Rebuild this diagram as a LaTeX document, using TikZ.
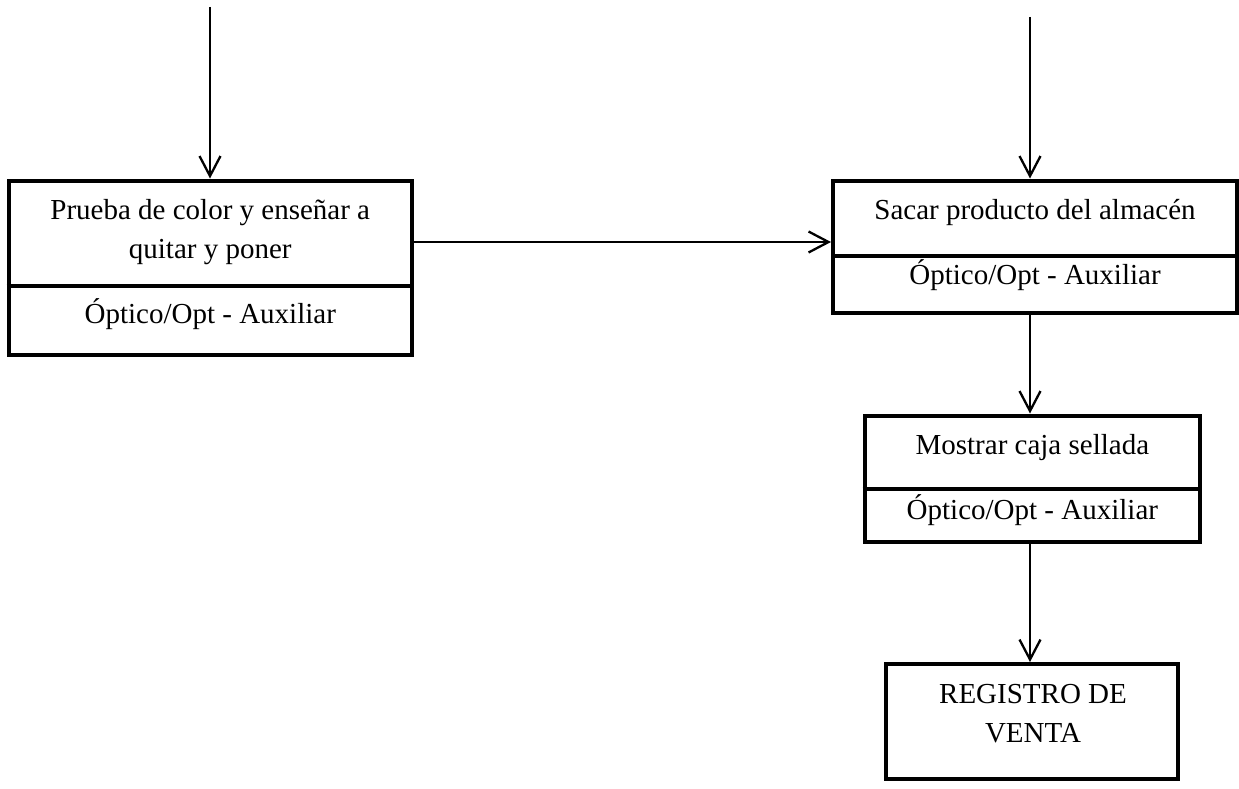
\documentclass[tikz,border=0pt]{standalone}
\usepackage{fontspec}
\setmainfont{Liberation Serif}
\usetikzlibrary{arrows.meta}
\begin{document}
\begin{tikzpicture}[x=1pt,y=-1pt,
  box/.style={draw, line width=4pt, inner sep=0pt},
  divline/.style={line width=4pt},
  lbl/.style={anchor=base, inner sep=0pt, align=center,
    font=\fontsize{29}{39}\selectfont},
  arr/.style={line width=2pt, -{Straight Barb[length=20pt, width=21pt, line width=2.3pt]}}]
  \useasboundingbox (0,0) rectangle (1239,789);

  % process boxes
  \node[box, minimum width=403.5pt, minimum height=174.5pt] (b1) at (210.25,267.75) {};
  \node[box, minimum width=404pt, minimum height=132.5pt] (b2) at (1035,246.75) {};
  \node[box, minimum width=335.3pt, minimum height=126.5pt] (b3) at (1032.35,478.75) {};
  \node[box, minimum width=292pt, minimum height=114.7pt] (b4) at (1032,721.35) {};

  % section dividers
  \coordinate (d1) at (0,286);
  \coordinate (d2) at (0,256);
  \coordinate (d3) at (0,489);
  \draw[divline] (b1.west |- d1) -- (b1.east |- d1);
  \draw[divline] (b2.west |- d2) -- (b2.east |- d2);
  \draw[divline] (b3.west |- d3) -- (b3.east |- d3);

  % texts (base anchor of a two-line node sits on its last line)
  \node[lbl] (t1) at (210.25,258.5) {Prueba de color y enseñar a\\quitar y poner};
  \node[lbl] (r1) at (210.25,323) {Óptico/Opt - Auxiliar};
  \node[lbl] (t2) at (1035,219.3) {Sacar producto del almacén};
  \node[lbl] (r2) at (1035,284) {Óptico/Opt - Auxiliar};
  \node[lbl] (t3) at (1032.35,454.3) {Mostrar caja sellada};
  \node[lbl] (r3) at (1032.35,519.3) {Óptico/Opt - Auxiliar};
  \node[lbl] (t4) at (1033,742) {REGISTRO DE\\VENTA};

  % connectors
  \coordinate (in1) at (210,7);
  \coordinate (in2) at (1030,17);
  \coordinate (h) at (0,242);
  \draw[arr] (in1) -- (in1 |- b1.north);
  \draw[arr] (in2) -- (in2 |- b2.north);
  \draw[arr] (b1.east |- h) -- (b2.west |- h);
  \draw[arr] (in2 |- b2.south) -- (in2 |- b3.north);
  \draw[arr] (in2 |- b3.south) -- (in2 |- b4.north);
\end{tikzpicture}
\end{document}
